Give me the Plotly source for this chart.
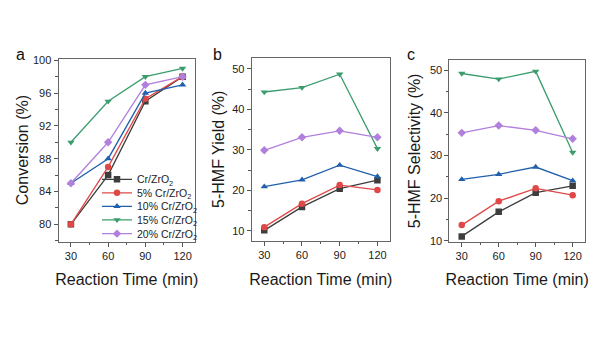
import plotly.graph_objects as go

# Reaction times (min)
times = [30, 60, 90, 120]

series_names = ["Cr/ZrO<sub>2</sub>", "5% Cr/ZrO<sub>2</sub>", "10% Cr/ZrO<sub>2</sub>",
                "15% Cr/ZrO<sub>2</sub>", "20% Cr/ZrO<sub>2</sub>"]

# Panel a: conversion (%)
conv_0 = [80, 86, 95, 98]
conv_5 = [80, 87, 95.3, 98]
conv_10 = [85, 88, 96, 97]
conv_15 = [90, 95, 98, 99]
conv_20 = [85, 90, 97, 98]

# Panel b: 5-HMF yield (%)
yield_0 = [10.1, 15.9, 20.4, 22.5]
yield_5 = [10.9, 16.7, 21.3, 20.1]
yield_10 = [20.9, 22.6, 26.2, 23.4]
yield_15 = [44.3, 45.4, 48.7, 30.3]
yield_20 = [29.9, 33.1, 34.7, 33.1]

# Panel c: 5-HMF selectivity (%)
sel_0 = [11.05, 16.8, 21.3, 22.9]
sel_5 = [13.7, 19.3, 22.3, 20.7]
sel_10 = [24.4, 25.6, 27.3, 24.1]
sel_15 = [49.2, 47.9, 49.7, 30.7]
sel_20 = [35.3, 37.0, 35.9, 33.9]

colors = ["#3d3d3d", "#e04848", "#2160ad", "#3b9d6d", "#b17fdc"]
symbols = ["square", "circle", "triangle-up", "triangle-down", "diamond"]

panels = [
    ("x", "y", [conv_0, conv_5, conv_10, conv_15, conv_20]),
    ("x2", "y2", [yield_0, yield_5, yield_10, yield_15, yield_20]),
    ("x3", "y3", [sel_0, sel_5, sel_10, sel_15, sel_20]),
]

legend_ids = ["legend", "legend2", "legend3", "legend4", "legend5"]
legend_y = [0.467, 0.426, 0.385, 0.344, 0.302]

fig = go.Figure()
for p, (xa, ya, data) in enumerate(panels):
    for i, vals in enumerate(data):
        fig.add_trace(go.Scatter(
            x=times, y=vals, xaxis=xa, yaxis=ya,
            mode="lines+markers", name=series_names[i],
            line=dict(color=colors[i], width=1.3),
            marker=dict(symbol=symbols[i], size=6.5, color=colors[i]),
            showlegend=(p == 0),
            legend=legend_ids[i],
        ))

axis_font = dict(family="Liberation Sans, Arial, sans-serif", size=11, color="#222")
title_font = dict(family="Liberation Sans, Arial, sans-serif", size=16, color="#1a1a1a")


def xaxis(domain, anchor):
    return dict(domain=domain, anchor=anchor, range=[20, 130],
                tickvals=times, ticks="outside", ticklen=4, tickwidth=1,
                tickcolor="#555", showline=True, linecolor="#666", linewidth=1,
                mirror=True, showgrid=False, zeroline=False, tickfont=axis_font,
                minor=dict(dtick=15, tick0=15, ticks="outside", ticklen=2.5, tickcolor="#555"),
                title=dict(text="Reaction Time (min)", font=title_font, standoff=13))


def yaxis(domain, anchor, rng, dtick, title, standoff):
    return dict(domain=domain, anchor=anchor, range=rng, dtick=dtick,
                ticks="outside", ticklen=4, tickwidth=1, tickcolor="#555",
                showline=True, linecolor="#666", linewidth=1, mirror=True,
                showgrid=False, zeroline=False, tickfont=axis_font,
                minor=dict(dtick=dtick / 2, ticks="outside", ticklen=2.5, tickcolor="#555"),
                title=dict(text=title, font=title_font, standoff=standoff))


layout = dict(
    width=600, height=338, margin=dict(l=0, r=0, t=0, b=0),
    paper_bgcolor="white", plot_bgcolor="white",
    xaxis=xaxis([0.0975, 0.325], "y"),
    yaxis=yaxis([0.278, 0.834], "x", [77.9, 100.2], 4, "Conversion (%)", 0),
    xaxis2=xaxis([0.4195, 0.65], "y2"),
    yaxis2=yaxis([0.280, 0.837], "x2", [7.5, 52.8], 10, "5-HMF Yield (%)", 3),
    xaxis3=xaxis([0.749, 0.975], "y3"),
    yaxis3=yaxis([0.278, 0.829], "x3", [9.85, 52.3], 10, "5-HMF Selectivity (%)", 5),
    annotations=[
        dict(text=t, x=x, y=0.845, xref="paper", yref="paper", showarrow=False,
             font=dict(family="Liberation Sans, Arial, sans-serif", size=16, color="#111"),
             xanchor="center", yanchor="middle")
        for t, x in [("a", 20.7 / 600), ("b", 217.7 / 600), ("c", 411 / 600)]
    ],
)
for lid, ly in zip(legend_ids, legend_y):
    layout[lid] = dict(x=97 / 600, y=ly, xanchor="left", yanchor="middle",
                       bgcolor="rgba(0,0,0,0)", borderwidth=0,
                       font=dict(family="Liberation Sans, Arial, sans-serif", size=10.5, color="#222"))

fig.update_layout(**layout)
fig.write_html("out.html")
